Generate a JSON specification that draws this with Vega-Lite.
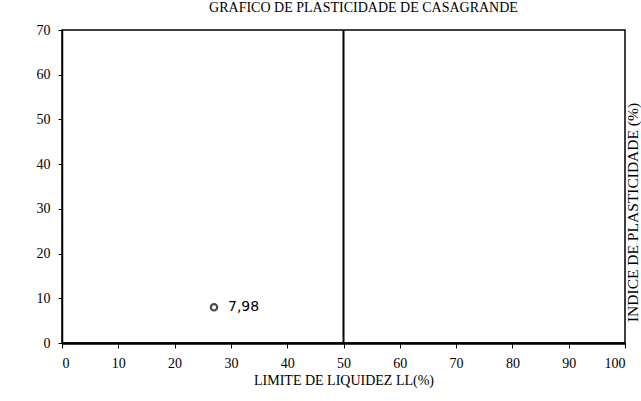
{
  "$schema": "https://vega.github.io/schema/vega-lite/v6.json",
  "autosize": "none",
  "width": 563,
  "height": 313,
  "padding": {"left": 62, "top": 30, "right": 16, "bottom": 58},
  "background": "white",
  "title": {
    "text": "GRAFICO DE PLASTICIDADE DE CASAGRANDE",
    "font": "Liberation Serif",
    "fontSize": 14,
    "fontWeight": "normal",
    "color": "black",
    "offset": 8,
    "dx": 20
  },
  "config": {
    "view": {"stroke": "black", "strokeWidth": 1.5},
    "axis": {
      "labelFont": "Liberation Serif",
      "labelFontSize": 14,
      "labelColor": "black",
      "titleFont": "Liberation Serif",
      "titleFontSize": 14,
      "titleFontWeight": "normal",
      "titleColor": "black",
      "domainColor": "black",
      "tickColor": "black",
      "grid": false
    }
  },
  "datasets": {
    "pts": [{"LL": 27, "IP": 7.98, "label": "7,98"}],
    "lines": [{"LL": 50, "y0": 0, "y1": 70}]
  },
  "resolve": {"axis": {"y": "independent"}},
  "layer": [
    {
      "data": {"name": "lines"},
      "mark": {"type": "rule", "color": "black", "strokeWidth": 2},
      "encoding": {
        "x": {
          "field": "LL", "type": "quantitative",
          "scale": {"domain": [0, 100], "nice": false},
          "axis": {
            "values": [0, 10, 20, 30, 40, 50, 60, 70, 80, 90, 100],
            "title": "LIMITE DE LIQUIDEZ LL(%)",
            "domainWidth": 2.5,
            "tickSize": 5,
            "labelPadding": 8,
            "titlePadding": 3
          }
        },
        "y": {
          "field": "y0", "type": "quantitative",
          "scale": {"domain": [0, 70], "nice": false},
          "axis": {
            "values": [0, 10, 20, 30, 40, 50, 60, 70],
            "title": null,
            "domainWidth": 1.5,
            "tickSize": 4,
            "labelPadding": 8
          }
        },
        "y2": {"field": "y1"}
      }
    },
    {
      "data": {"name": "pts"},
      "mark": {"type": "point", "shape": "circle", "filled": false, "color": "black", "strokeWidth": 2.2, "size": 40},
      "encoding": {
        "x": {"field": "LL", "type": "quantitative"},
        "y": {
          "field": "IP", "type": "quantitative",
          "axis": {
            "orient": "right",
            "title": "INDICE DE PLASTICIDADE (%)",
            "labels": false,
            "ticks": false,
            "domain": false,
            "titlePadding": 15,
            "titleFontSize": 15.5,
            "titleAngle": -90,
            "titleY": 182
          }
        }
      }
    },
    {
      "data": {"name": "pts"},
      "mark": {"type": "text", "align": "left", "dx": 14, "font": "DejaVu Sans", "fontSize": 14, "color": "black"},
      "encoding": {
        "x": {"field": "LL", "type": "quantitative"},
        "y": {"field": "IP", "type": "quantitative", "axis": null},
        "text": {"field": "label"}
      }
    }
  ]
}
